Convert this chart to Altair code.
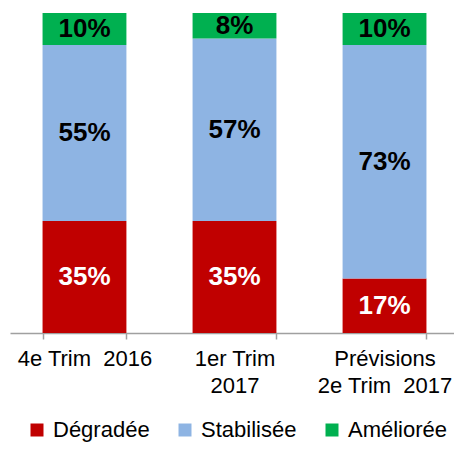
import altair as alt
import pandas as pd

NB = "\u00a0"
categories = ["4e Trim" + NB + NB + "2016", "1er Trim|2017", "Prévisions|2e Trim" + NB + NB + "2017"]
series = ["Dégradée", "Stabilisée", "Améliorée"]
degradee = [35, 35, 17]
stabilisee = [55, 57, 73]
amelioree = [10, 8, 10]
colors = ["#C00000", "#8EB4E3", "#00B050"]
label_colors = ["white", "black", "black"]

rows = []
for i, c in enumerate(categories):
    for j, (s, vals) in enumerate(zip(series, [degradee, stabilisee, amelioree])):
        rows.append({"cat": c, "series": s, "value": vals[i], "order": j,
                     "label": f"{vals[i]}%", "tc": label_colors[j]})
df = pd.DataFrame(rows)

FONT = "Liberation Sans"

base = alt.Chart(df).transform_stack(
    stack="value", groupby=["cat"], sort=[alt.SortField("order")], as_=["y0", "y1"]
).transform_calculate(mid="(datum.y0 + datum.y1) / 2")

x = alt.X(
    "cat:N", sort=categories,
    scale=alt.Scale(paddingInner=0.441, paddingOuter=0.217, range=[0, 449]),
    axis=alt.Axis(
        title=None, labelAngle=0, labelExpr="split(datum.label, '|')",
        tickBand="extent", tickSize=6, tickColor="#A0A0A0", domainColor="#A0A0A0",
        domainWidth=1.5, tickWidth=1.5, labelFontSize=22, labelFont=FONT,
        labelColor="#000000", labelPadding=9, labelLineHeight=27,
        labelBaseline="top",
    ),
)

bars = base.mark_bar().encode(
    x=x,
    y=alt.Y("y0:Q", scale=alt.Scale(domain=[0, 100]), axis=None),
    y2="y1:Q",
    color=alt.Color(
        "series:N",
        scale=alt.Scale(domain=series, range=colors),
        legend=alt.Legend(
            title=None, orient="none", legendX=16, legendY=406,
            direction="horizontal", symbolType="square", symbolSize=169,
            symbolStrokeWidth=0, labelFontSize=22, labelFont=FONT,
            labelColor="#000000", columnPadding=24, labelOffset=5,
        ),
    ),
    order=alt.Order("order:Q"),
)

text = base.mark_text(fontWeight="bold", fontSize=26, font=FONT).encode(
    x=x,
    y=alt.Y("mid:Q", scale=alt.Scale(domain=[0, 100]), axis=None),
    text="label:N",
    color=alt.Color("tc:N", scale=None),
)

chart = alt.layer(bars, text).properties(
    width=444, height=320,
    padding={"left": 2, "top": 5, "right": 0, "bottom": 109},
    autosize=alt.AutoSizeParams(type="none"),
).configure_view(stroke=None)

chart.save("out.html", embed_options={"renderer": "svg", "actions": False})
